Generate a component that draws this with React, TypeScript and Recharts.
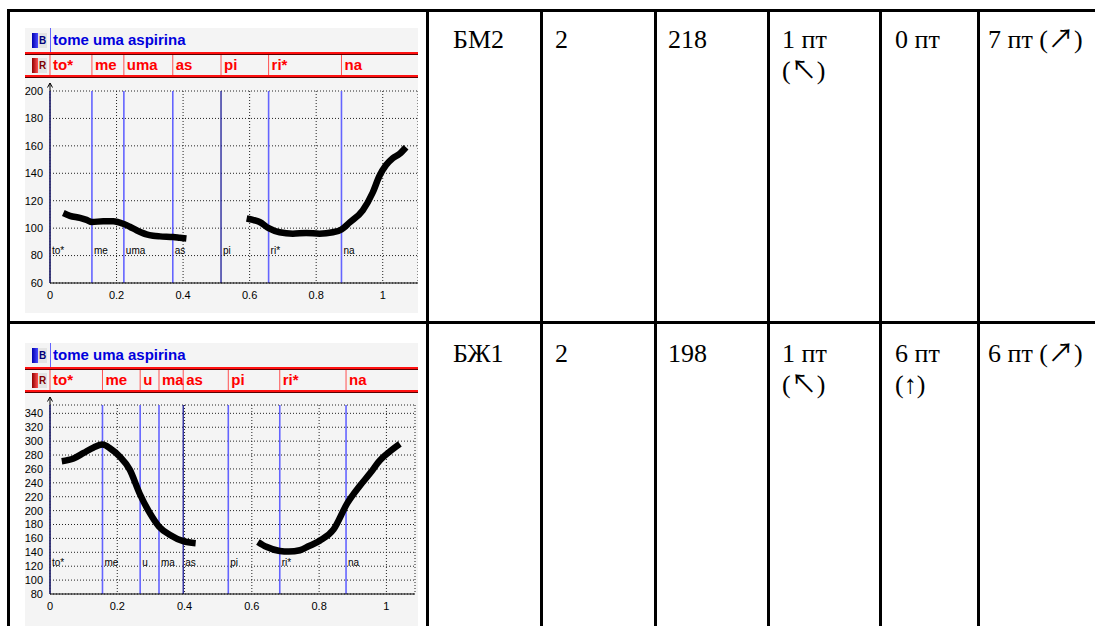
import React from 'react';
import { LineChart, Line, XAxis, YAxis, CartesianGrid, ReferenceLine, ReferenceDot } from 'recharts';

// ---------- data ----------
const TITLE = 'tome uma aspirina';
const X_TICKS = [0, 0.2, 0.4, 0.6, 0.8, 1];

// panel 1 (БМ2)
const SEG_NAMES_1 = ['to*', 'me', 'uma', 'as', 'pi', 'ri*', 'na'];
const SEG_STARTS_1 = [0, 0.126, 0.222, 0.369, 0.514, 0.657, 0.876];
const CURSOR_1 = 0.514;
const Y_TICKS_1 = [60, 80, 100, 120, 140, 160, 180, 200];
const Y_DOMAIN_1 = [60, 200];
const LABEL_Y_1 = 84;
const F0_X_1 = [0.04, 0.06, 0.09, 0.11, 0.126, 0.16, 0.19, 0.222, 0.24, 0.26, 0.29, 0.31, 0.33, 0.37, 0.39, 0.41,
  0.5,
  0.591, 0.61, 0.63, 0.657, 0.69, 0.73, 0.77, 0.81, 0.85, 0.876, 0.9, 0.94, 0.97, 0.99, 1.01, 1.03, 1.05, 1.07];
const F0_Y_1 = [111, 109, 107.5, 106, 104.5, 105, 105, 103, 101, 98.5, 95.5, 94.5, 94, 93.5, 93, 92.5,
  null,
  107, 106, 104.5, 100, 97, 96, 96.5, 96, 97, 99, 104, 113, 126, 138, 146, 151, 154, 159];

// panel 2 (БЖ1)
const SEG_NAMES_2 = ['to*', 'me', 'u', 'ma', 'as', 'pi', 'ri*', 'na'];
const SEG_STARTS_2 = [0, 0.156, 0.268, 0.324, 0.396, 0.53, 0.683, 0.88];
const CURSOR_2 = 0.396;
const Y_TICKS_2 = [80, 100, 120, 140, 160, 180, 200, 220, 240, 260, 280, 300, 320, 340];
const Y_DOMAIN_2 = [80, 352];
const LABEL_Y_2 = 125;
const F0_X_2 = [0.035, 0.07, 0.1, 0.13, 0.156, 0.18, 0.207, 0.237, 0.266, 0.296, 0.324, 0.357, 0.396, 0.433,
  0.52,
  0.618, 0.643, 0.683, 0.71, 0.743, 0.77, 0.803, 0.843, 0.883, 0.92, 0.952, 0.98, 1.01, 1.04];
const F0_Y_2 = [271, 275, 283, 291, 295, 289, 278, 259, 225, 197, 177, 165, 156, 153,
  null,
  155, 148, 142, 141, 143, 149, 157, 173, 210, 235, 254, 272, 285, 296];

// table text
const SPEAKERS = ['БМ2', 'БЖ1'];
const COL_B = ['2', '2'];
const COL_C = ['218', '198'];
const COL_D = [['1 пт', '(↖)'], ['1 пт', '(↖)']];
const COL_E = [['0 пт'], ['6 пт', '(↑)']];
const COL_F = [['7 пт (↗)'], ['6 пт (↗)']];

// ---------- styles ----------
const SANS = '"Liberation Sans", Arial, sans-serif';
const NARROW = '"Liberation Sans Narrow", "Arial Narrow", "Liberation Sans", Arial, sans-serif';
const SERIF = '"Liberation Serif", "Times New Roman", "Noto Sans CJK JP", serif';
const BLUE_LINE = '#6464ff';
const CURSOR_LINE = '#1a1a96';

const Icon = ({ letter, dark, light, color }: any) => (
  <div style={{
    position: 'absolute', left: 7, top: 0, bottom: 0, display: 'flex', alignItems: 'center',
  }}>
    <div style={{ width: 15, height: 15, display: 'flex' }}>
      <div style={{ width: 6, height: 15, background: `linear-gradient(to right, ${dark}, ${light})` }} />
      <div style={{
        width: 9, height: 15, background: '#e4e4e4', color, fontSize: 10, fontWeight: 'bold',
        fontFamily: SANS, lineHeight: '15px', textAlign: 'center',
      }}>{letter}</div>
    </div>
  </div>
);

const RedRule = () => (
  <div>
    <div style={{ height: 2, background: '#ff1010' }} />
    <div style={{ height: 1, background: '#5a0000' }} />
  </div>
);

const Panel = ({ left, top, height, names, starts, cursor, xs, ys, yTicks, yDomain, xMax, labelY,
  chartHeight, marginTop, rightPad }: any) => {
  const W = 393;
  const data = xs.map((x: number, i: number) => ({ x, y: ys[i] }));
  const segData = starts.map((s: number) => ({ x: s, y: 0.5 }));
  const tickStyle = { fontSize: 11, fill: '#000', fontFamily: NARROW };
  return (
    <div style={{ position: 'absolute', left, top, width: W, height, background: '#f4f4f4', overflow: 'hidden' }}>
      <div style={{ position: 'relative', height: 24 }}>
        <Icon letter="B" dark="#0000b0" light="#4a4aff" color="#00007a" />
        <div style={{ position: 'absolute', left: 25, top: 0, width: 1, height: 24, background: BLUE_LINE }} />
        <div style={{
          position: 'absolute', left: 28, top: 0, height: 24, lineHeight: '24px', color: '#0000dd',
          fontFamily: SANS, fontWeight: 'bold', fontSize: 15, whiteSpace: 'nowrap',
        }}>{TITLE}</div>
      </div>
      <RedRule />
      <div style={{ position: 'relative', height: 20 }}>
        <Icon letter="R" dark="#900000" light="#ff5050" color="#800000" />
        <LineChart width={W} height={20} data={segData} margin={{ top: 0, right: rightPad, bottom: 0, left: 25 }}>
          <XAxis hide dataKey="x" type="number" domain={[0, xMax]} allowDataOverflow />
          <YAxis hide type="number" domain={[0, 1]} allowDataOverflow />
          {starts.map((s: number, i: number) => (
            <ReferenceLine key={'s' + i} x={s} stroke="#ff5050" strokeWidth={1} ifOverflow="visible" />
          ))}
          {starts.map((s: number, i: number) => (
            <ReferenceDot key={'t' + i} x={s} y={0.5} r={0} ifOverflow="visible"
              shape={(p: any) => (
                <text x={p.cx + 3} y={p.cy} dy="0.36em" fill="#ff0000" fontSize={15} fontWeight="bold"
                  fontFamily={SANS}>{names[i]}</text>
              )} />
          ))}
        </LineChart>
      </div>
      <RedRule />
      <LineChart width={W} height={chartHeight} data={data} margin={{ top: marginTop, right: rightPad, bottom: 0, left: 0 }}>
        <CartesianGrid stroke="#222" strokeDasharray="1 2" horizontal vertical />
        <XAxis dataKey="x" type="number" domain={[0, xMax]} ticks={X_TICKS} allowDataOverflow
          tickLine={false} tickSize={5} tickMargin={3} axisLine={{ stroke: '#000' }} tick={tickStyle} height={30}
          interval={0} />
        <YAxis type="number" domain={yDomain} ticks={yTicks} allowDataOverflow width={25} interval={0}
          tickLine={false} tickSize={5} tickMargin={2} axisLine={{ stroke: '#000' }} tick={tickStyle} />
        {starts.map((s: number, i: number) => (
          <ReferenceLine key={'b' + i} x={s} stroke={s === cursor ? CURSOR_LINE : BLUE_LINE}
            strokeWidth={s === cursor ? 1.3 : 1.6} ifOverflow="visible" />
        ))}
        {starts.map((s: number, i: number) => (
          <ReferenceDot key={'l' + i} x={s} y={labelY} r={0} ifOverflow="visible"
            shape={(p: any) => (
              <text x={p.cx + 2} y={p.cy} dy="0.36em" fill="#000" fontSize={10} fontFamily={SANS}>{names[i]}</text>
            )} />
        ))}
        <ReferenceDot x={0} y={yDomain[1]} r={0} ifOverflow="visible"
          shape={(p: any) => (
            <g>
              <line x1={p.cx} y1={p.cy} x2={p.cx} y2={p.cy - 8} stroke="#000" strokeWidth={1} />
              <path d={`M${p.cx - 2.5},${p.cy - 3.5} L${p.cx},${p.cy - 8} L${p.cx + 2.5},${p.cy - 3.5}`}
                fill="none" stroke="#000" strokeWidth={1} />
            </g>
          )} />
        <Line dataKey="y" type="monotone" stroke="#000" strokeWidth={6.5} dot={false} activeDot={false}
          connectNulls={false} isAnimationActive={false} strokeLinejoin="round" />
      </LineChart>
    </div>
  );
};

const H_LINES = [10, 322];
const V_LINES = [8.5, 427, 541, 655, 768, 880, 978];
const ROW_TOPS = [24, 338];
const COL_LEFTS = [453, 555, 668, 782, 895, 988];

const Cell = ({ left, top, lines }: any) => (
  <div style={{
    position: 'absolute', left, top, fontFamily: SERIF, fontSize: 26, lineHeight: '31px',
    color: '#000', whiteSpace: 'nowrap',
  }}>
    {lines.map((l: string, i: number) => <div key={i}>{l}</div>)}
  </div>
);

export default function App() {
  return (
    <div style={{ position: 'fixed', left: 0, top: 0, width: 1095, height: 626, overflow: 'hidden', background: '#fff' }}>
      {H_LINES.map((y, i) => (
        <div key={'h' + i} style={{ position: 'absolute', left: 7, top: y - 1.5, width: 1100, height: 3, background: '#000' }} />
      ))}
      {V_LINES.map((x, i) => (
        <div key={'v' + i} style={{ position: 'absolute', left: x - 1.5, top: 8.5, width: 3, height: 640, background: '#000' }} />
      ))}
      {SPEAKERS.map((sp, r) => (
        <React.Fragment key={r}>
          <Cell left={COL_LEFTS[0]} top={ROW_TOPS[r]} lines={[sp]} />
          <Cell left={COL_LEFTS[1]} top={ROW_TOPS[r]} lines={[COL_B[r]]} />
          <Cell left={COL_LEFTS[2]} top={ROW_TOPS[r]} lines={[COL_C[r]]} />
          <Cell left={COL_LEFTS[3]} top={ROW_TOPS[r]} lines={COL_D[r]} />
          <Cell left={COL_LEFTS[4]} top={ROW_TOPS[r]} lines={COL_E[r]} />
          <Cell left={COL_LEFTS[5]} top={ROW_TOPS[r]} lines={COL_F[r]} />
        </React.Fragment>
      ))}
      <Panel left={25} top={28} height={285} names={SEG_NAMES_1} starts={SEG_STARTS_1} cursor={CURSOR_1}
        xs={F0_X_1} ys={F0_Y_1} yTicks={Y_TICKS_1} yDomain={Y_DOMAIN_1} xMax={1.106} labelY={LABEL_Y_1}
        chartHeight={235} marginTop={13} rightPad={0} />
      <Panel left={25} top={343} height={300} names={SEG_NAMES_2} starts={SEG_STARTS_2} cursor={CURSOR_2}
        xs={F0_X_2} ys={F0_Y_2} yTicks={Y_TICKS_2} yDomain={Y_DOMAIN_2} xMax={1.085} labelY={LABEL_Y_2}
        chartHeight={231} marginTop={12} rightPad={3} />
    </div>
  );
}
